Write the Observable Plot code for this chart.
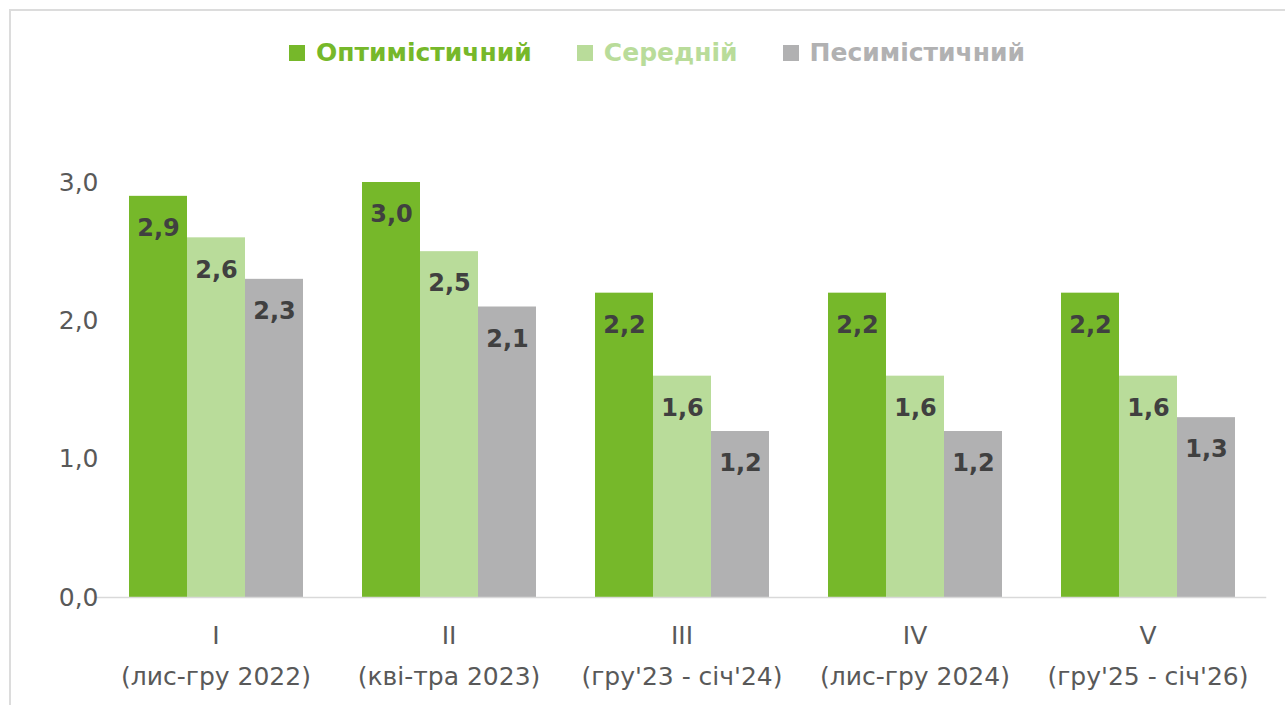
<!DOCTYPE html>
<html><head><meta charset="utf-8">
<script src="https://cdn.jsdelivr.net/npm/d3@7"></script>
<script src="https://cdn.jsdelivr.net/npm/@observablehq/plot@0.6"></script>
<style>
body{margin:0;background:#fff;font-family:"DejaVu Sans",sans-serif;}
#wrap{position:relative;width:1285px;height:705px;overflow:hidden;background:#fff;}
#frame{position:absolute;left:9px;top:9px;width:1400px;height:800px;border-top:2px solid #dcdcdc;border-left:2px solid #dcdcdc;}
#legend{position:absolute;top:0;left:0;height:105px;display:flex;align-items:center;padding-left:289px;font-weight:bold;font-size:25px;}
.item{display:flex;align-items:center;margin-right:45px;}
.sw{width:16px;height:16px;margin-right:11px;}
#chart{position:absolute;top:100px;left:0;}
</style></head>
<body>
<div id="wrap"><div id="frame"></div><div id="legend"></div><div id="chart"></div></div>
<script>
const periods = ["I","II","III","IV","V"];
const periodLabels = ["(лис-гру 2022)","(кві-тра 2023)","(гру'23 - січ'24)","(лис-гру 2024)","(гру'25 - січ'26)"];
const scenarios = ["Оптимістичний","Середній","Песимістичний"];
const optimistic = [2.9,3.0,2.2,2.2,2.2];
const medium = [2.6,2.5,1.6,1.6,1.6];
const pessimistic = [2.3,2.1,1.2,1.2,1.3];
const colors = ["#76b82a","#b9dc9a","#b1b1b2"];
const yTicks = [0,1,2,3];

const series = [optimistic, medium, pessimistic];
const data = [];
periods.forEach((p,i)=>scenarios.forEach((s,j)=>data.push({period:p, scenario:s, value:series[j][i]})));
const fmt = d => d.toFixed(1).replace(".", ",");

const legend = document.getElementById("legend");
scenarios.forEach((s,j)=>{
  const it = document.createElement("div"); it.className="item";
  const sw = document.createElement("div"); sw.className="sw"; sw.style.background=colors[j];
  const t = document.createElement("span"); t.textContent=s; t.style.color=colors[j];
  it.appendChild(sw); it.appendChild(t); legend.appendChild(it);
});

const chart = Plot.plot({
  width:1285, height:605,
  marginLeft:97, marginRight:20, marginTop:82, marginBottom:108,
  style:{fontFamily:"'DejaVu Sans', sans-serif", color:"#595959", background:"transparent"},
  fx:{domain:periods, paddingInner:0.25, paddingOuter:0.125, label:null},
  x:{domain:scenarios, padding:0, axis:null},
  y:{domain:[0,3], axis:null},
  color:{domain:scenarios, range:colors},
  marks:[
    Plot.barY(data,{fx:"period", x:"scenario", y:"value", fill:"scenario"}),
    Plot.frame({anchor:"bottom", facet:"super", stroke:"#d9d9d9", strokeWidth:1.5, insetLeft:-32, insetRight:-30}),
    Plot.text(data,{fx:"period", x:"scenario", y:"value", text:d=>fmt(d.value), dy:32, fontWeight:"bold", fontSize:24, fill:"#404040"}),
    Plot.axisY({ticks:yTicks, tickSize:0, tickPadding:30, tickFormat:fmt, fontSize:25, label:null}),
    Plot.axisFx({anchor:"bottom", tickSize:0, tickPadding:17, fontSize:25, lineHeight:1.64, label:null,
      tickFormat:d=>d + "\n" + periodLabels[periods.indexOf(d)]})
  ]
});
document.getElementById("chart").appendChild(chart);
</script>
</body></html>
